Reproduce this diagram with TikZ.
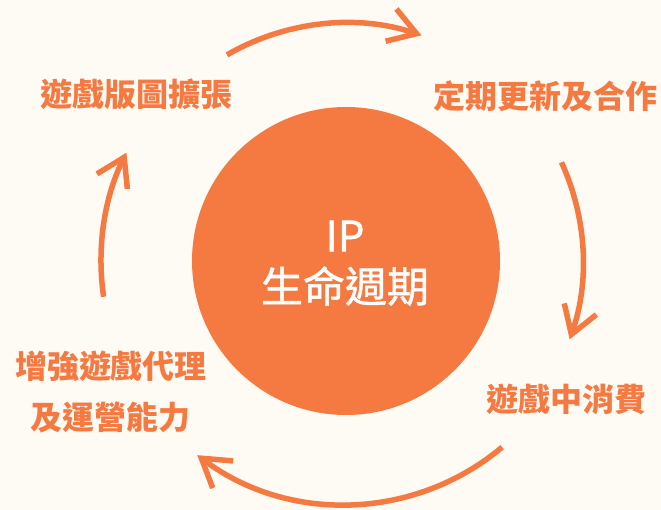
\documentclass[tikz,border=0pt]{standalone}
\usepackage{fontspec}
\newfontfamily\cjk{Noto Sans CJK TC}
\newfontfamily\cjkmid{Noto Sans CJK TC}[FakeBold=1.2]
\usetikzlibrary{arrows.meta,calc}
\definecolor{bgc}{RGB}{254,251,245}
\definecolor{accent}{RGB}{245,122,66}
\begin{document}
\begin{tikzpicture}[x=1pt,y=-1pt,
  lbl/.style={text=accent,font=\cjk\bfseries\fontsize{32}{51}\selectfont,inner sep=0pt,align=center},
  ctr/.style={text=white,font=\cjkmid\fontsize{42}{50}\selectfont,inner sep=0pt},
  cyc/.style={draw=accent,line width=5.5pt,-{Straight Barb[length=27pt,width=34pt]}}]
\fill[bgc] (0,0) rectangle (661,510);
\useasboundingbox (0,0) rectangle (661,510);
\node[circle,fill=accent,minimum size=308pt,inner sep=0pt] (hub) at (346,261) {};
\node[ctr] (ip) at (345,236) {IP};
\node[ctr] (life) at (345,286) {生命週期};
\node[lbl] (expand) at (136,94) {遊戲版圖擴張};
\node[lbl] (update) at (545,96) {定期更新及合作};
\node[lbl] (spend) at (566,399) {遊戲中消費};
\node[lbl] (agency) at (111,392) {增強遊戲代理\\及運營能力};
\coordinate (t1) at ($(hub.center)+(-120:238)$);
\coordinate (t2) at ($(hub.center)+(-24.6:237)$);
\coordinate (t3) at ($(hub.center)+(50:243)$);
\coordinate (t4) at ($(hub.center)+(171.6:245)$);
\draw[cyc] (t1) arc[start angle=-120,end angle=-71.5,radius=238];
\draw[cyc] (t2) arc[start angle=-24.6,end angle=19.3,radius=237];
\draw[cyc] (t3) arc[start angle=50,end angle=127,radius=245];
\draw[cyc] (t4) arc[start angle=171.6,end angle=206.4,radius=244];
\end{tikzpicture}
\end{document}
